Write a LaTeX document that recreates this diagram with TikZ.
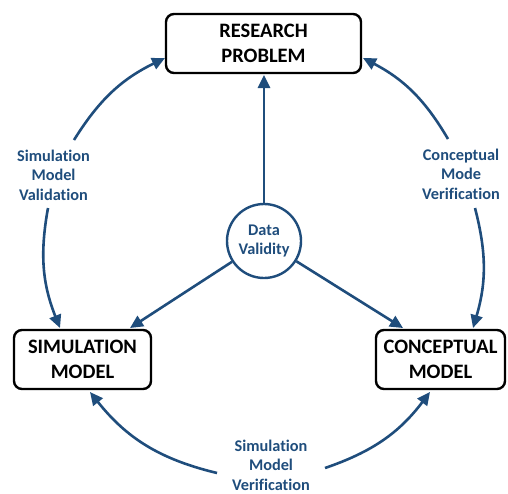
\documentclass[tikz,border=0pt]{standalone}
\usepackage{fontspec}
\setmainfont{Carlito}[Ligatures=NoCommon]
\usetikzlibrary{arrows.meta}
\definecolor{db}{RGB}{31,77,124}
\begin{document}
\begin{tikzpicture}[x=1pt,y=1pt,
 box/.style={draw=black, line width=2.4pt, rounded corners=8pt, font=\bfseries\fontsize{20.5}{24.5}\selectfont, align=center, inner sep=0pt, minimum height=59pt},
 lbl/.style={text=db, font=\bfseries\fontsize{16.3}{19.5}\selectfont, align=center},
 arr/.style={draw=db, line width=2.6pt, -{Triangle[length=13pt,width=12pt]}}]
\useasboundingbox (0,0) rectangle (508,-493);
\node[box, minimum width=195pt] (rp) at (263.5,-43.5) {RESEARCH\\PROBLEM};
\node[box, minimum width=137pt] (sm) at (82.5,-359.5) {SIMULATION\\MODEL};
\node[box, minimum width=129pt] (cm) at (440.5,-359.5) {CONCEPTUAL\\MODEL};
\node[circle, draw=db, line width=2.4pt, minimum size=74pt, inner sep=0pt, lbl] (dv) at (264,-241) {Data\\Validity};
\node[lbl] (l1) at (53.5,-175) {Simulation\\Model\\Validation};
\node[lbl] (l2) at (461,-174) {Conceptual\\Mode\\Verification};
\node[lbl] (l3) at (271,-465) {Simulation\\Model\\Verification};
% straight arrows
\coordinate (t0) at (264,-75);
\coordinate (t1) at (130,-328);
\coordinate (t2) at (403,-328);
\draw[arr] (dv.north) -- (t0);
\draw[arr] (dv) -- (t1);
\draw[arr] (dv) -- (t2);
% arcs
\coordinate (a1) at (74,-140);  \coordinate (a1e) at (165,-58);
\coordinate (a2) at (48,-208);  \coordinate (a2e) at (60,-328);
\coordinate (a3) at (217,-473); \coordinate (a3e) at (90,-392);
\coordinate (a4) at (325,-468); \coordinate (a4e) at (430,-392);
\coordinate (a5) at (475,-208); \coordinate (a5e) at (473,-328);
\coordinate (a6) at (448,-139); \coordinate (a6e) at (363,-58);
\draw[arr] (a1) to[bend left=16] (a1e);
\draw[arr] (a2) to[bend right=16] (a2e);
\draw[arr] (a3) to[bend left=19] (a3e);
\draw[arr] (a4) to[bend right=17] (a4e);
\draw[arr] (a5) to[bend left=15.5] (a5e);
\draw[arr] (a6) to[bend right=16] (a6e);
\end{tikzpicture}
\end{document}
